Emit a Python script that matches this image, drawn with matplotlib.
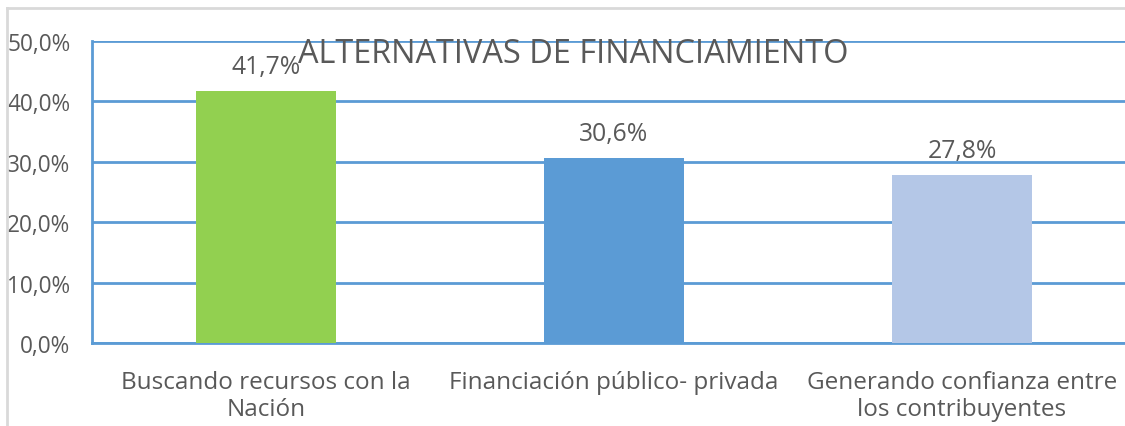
import matplotlib
matplotlib.use("Agg")
import matplotlib.pyplot as plt
from matplotlib.lines import Line2D
from matplotlib.ticker import FuncFormatter

categories = ["Buscando recursos con la\nNación",
              "Financiación público- privada",
              "Generando confianza entre\nlos contribuyentes"]
values = [41.7, 30.6, 27.8]
colors = ["#92d050", "#5b9bd5", "#b4c7e7"]
yticks = [0, 10, 20, 30, 40, 50]

plt.rcParams["font.family"] = ["Open Sans", "DejaVu Sans"]
text_color = "#595959"
grid_color = "#5b9bd5"

W, H = 1125, 427
fig = plt.figure(figsize=(W / 100, H / 100), dpi=100)
ax = fig.add_axes([92 / W, 1 - 344 / H, 1044 / W, 302 / H])

x = range(len(categories))
bars = ax.bar(x, values, width=0.402, color=colors, zorder=3)
ax.set_xlim(-0.5, 2.5)
ax.set_ylim(0, 50)
ax.set_yticks(yticks)
ax.yaxis.set_major_formatter(FuncFormatter(lambda v, p: f"{v:.1f}%".replace(".", ",")))
ax.grid(axis="y", color=grid_color, linewidth=2, zorder=0)
for side in ["top", "right"]:
    ax.spines[side].set_visible(False)
for side in ["left", "bottom"]:
    ax.spines[side].set_color(grid_color)
    ax.spines[side].set_linewidth(2)
ax.tick_params(length=0, colors=text_color)
ax.tick_params(axis="y", pad=15.5, labelsize=16.3)
ax.tick_params(axis="x", pad=19.5, labelsize=17.5)
ax.set_xticks(list(x))
ax.set_xticklabels(categories, linespacing=1.17)

for b, v in zip(bars, values):
    ax.annotate(f"{v:.1f}%".replace(".", ","), (b.get_x() + b.get_width() / 2, v),
                xytext=(0, 13), textcoords="offset points", ha="center", va="baseline",
                fontsize=17.8, color=text_color)

fig.text(573 / W, 1 - 63 / H, "ALTERNATIVAS DE FINANCIAMIENTO", ha="center",
         va="baseline", fontsize=23.4, color=text_color)

# chart frame (cropped on right and bottom)
fig.add_artist(Line2D([7 / W, 7 / W], [0, 1 - 9 / H], transform=fig.transFigure,
                      color="#d9d9d9", linewidth=2))
fig.add_artist(Line2D([7 / W, 1], [1 - 9 / H, 1 - 9 / H], transform=fig.transFigure,
                      color="#d9d9d9", linewidth=2))

fig.savefig("out.png", dpi=100)
